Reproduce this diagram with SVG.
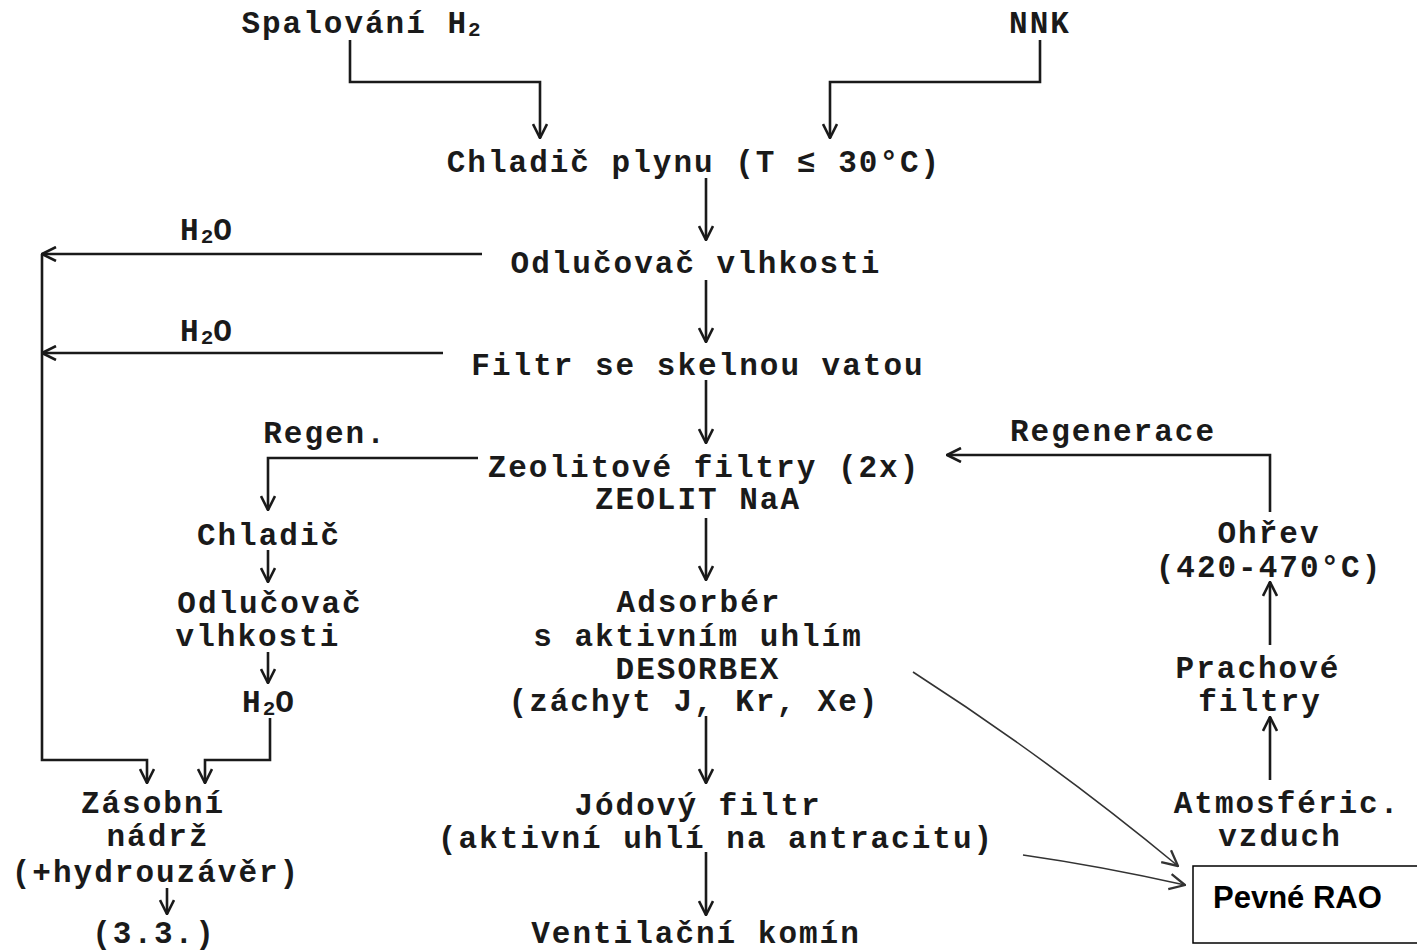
<svg xmlns="http://www.w3.org/2000/svg" width="1417" height="952" viewBox="0 0 1417 952">
<defs>
<style>
.t{font-family:"Liberation Mono","DejaVu Sans Mono",monospace;font-weight:bold;font-size:31px;letter-spacing:2px;fill:#1a1a1a;text-anchor:middle}
.s{font-size:21px;letter-spacing:0}
.c{fill:none;stroke:#1a1a1a;stroke-width:2.6}
.h{fill:none;stroke:#333;stroke-width:1.6}
.box{fill:#fff;stroke:#000;stroke-width:1.5}
.lab{font-family:"Liberation Sans",Arial,sans-serif;font-weight:bold;font-size:31px;fill:#000}
</style>
<marker id="a" viewBox="0 0 16 16" refX="15" refY="8" markerWidth="16" markerHeight="16" markerUnits="userSpaceOnUse" orient="auto">
<path d="M1,1 L15,8 L1,15" fill="none" stroke="#1a1a1a" stroke-width="2.6"/>
</marker>
<marker id="b" viewBox="0 0 14 14" refX="13" refY="7" markerWidth="18" markerHeight="18" markerUnits="userSpaceOnUse" orient="auto">
<path d="M1,1 L13,7 L1,13" fill="none" stroke="#333" stroke-width="1.8"/>
</marker>
</defs>
<rect width="1417" height="952" fill="#fff"/>
<g id="connectors">
<path class="c" d="M350,40 V82 H540 V138" marker-end="url(#a)"/>
<path class="c" d="M1040,40 V82 H830 V138" marker-end="url(#a)"/>
<path class="c" d="M706,178 V240" marker-end="url(#a)"/>
<path class="c" d="M482,254 H42" marker-end="url(#a)"/>
<path class="c" d="M706,280 V342" marker-end="url(#a)"/>
<path class="c" d="M443,353 H42" marker-end="url(#a)"/>
<path class="c" d="M42,254 V760 H147 V783" marker-end="url(#a)"/>
<path class="c" d="M706,380 V443" marker-end="url(#a)"/>
<path class="c" d="M478,458 H268 V510" marker-end="url(#a)"/>
<path class="c" d="M268,550 V582" marker-end="url(#a)"/>
<path class="c" d="M268,652 V683" marker-end="url(#a)"/>
<path class="c" d="M270,718 V760 H205 V783" marker-end="url(#a)"/>
<path class="c" d="M167,888 V914" marker-end="url(#a)"/>
<path class="c" d="M706,852 V915" marker-end="url(#a)"/>
<path class="c" d="M706,518 V580" marker-end="url(#a)"/>
<path class="c" d="M706,716 V783" marker-end="url(#a)"/>
<path class="c" d="M1270,512 V455 H947" marker-end="url(#a)"/>
<path class="c" d="M1270,645 V582" marker-end="url(#a)"/>
<path class="c" d="M1270,780 V717" marker-end="url(#a)"/>
<path class="h" d="M913,672 Q1050,760 1178,866" marker-end="url(#b)"/>
<path class="h" d="M1023,855 Q1100,866 1185,885" marker-end="url(#b)"/>
</g>
<g id="n-spalovani"><text class="t" x="361" y="33">Spalování H<tspan class="s" baseline-shift="-3">2</tspan></text></g>
<g id="n-nnk"><text class="t" x="1040" y="33">NNK</text></g>
<g id="n-chladic-plynu"><text class="t" x="694" y="172">Chladič plynu (T ≤ 30°C)</text></g>
<g id="n-h2o-1"><text class="t" x="207" y="240">H<tspan class="s" baseline-shift="-3">2</tspan>O</text></g>
<g id="n-odlucovac"><text class="t" x="696" y="273">Odlučovač vlhkosti</text></g>
<g id="n-h2o-2"><text class="t" x="207" y="341">H<tspan class="s" baseline-shift="-3">2</tspan>O</text></g>
<g id="n-filtr"><text class="t" x="698" y="375">Filtr se skelnou vatou</text></g>
<g id="n-regen"><text class="t" x="325" y="443">Regen.</text></g>
<g id="n-zeolit"><text class="t" x="704" y="477">Zeolitové filtry (2x)</text><text class="t" x="698" y="509">ZEOLIT NaA</text></g>
<g id="n-regenerace"><text class="t" x="1113" y="441">Regenerace</text></g>
<g id="n-chladic"><text class="t" x="269" y="545">Chladič</text></g>
<g id="n-odlucovac-2"><text class="t" x="270" y="613">Odlučovač</text><text class="t" x="258" y="646">vlhkosti</text></g>
<g id="n-h2o-3"><text class="t" x="269" y="712">H<tspan class="s" baseline-shift="-3">2</tspan>O</text></g>
<g id="n-ohrev"><text class="t" x="1269" y="543">Ohřev</text><text class="t" x="1269" y="577">(420-470°C)</text></g>
<g id="n-adsorber"><text class="t" x="699" y="612">Adsorbér</text><text class="t" x="698" y="646">s aktivním uhlím</text><text class="t" x="698" y="679">DESORBEX</text><text class="t" x="694" y="711">(záchyt J, Kr, Xe)</text></g>
<g id="n-prachove"><text class="t" x="1258" y="678">Prachové</text><text class="t" x="1260" y="711">filtry</text></g>
<g id="n-zasobni"><text class="t" x="153" y="813">Zásobní</text><text class="t" x="158" y="846">nádrž</text><text class="t" x="156" y="882">(+hydrouzávěr)</text></g>
<g id="n-33"><text class="t" x="154" y="943">(3.3.)</text></g>
<g id="n-jodovy"><text class="t" x="698" y="815">Jódový filtr</text><text class="t" x="716" y="848">(aktivní uhlí na antracitu)</text></g>
<g id="n-atmosferic"><text class="t" x="1287" y="813">Atmosféric.</text><text class="t" x="1280" y="846">vzduch</text></g>
<g id="n-ventilacni"><text class="t" x="696" y="943">Ventilační komín</text></g>
<g id="n-pevne-rao"><rect class="box" x="1193" y="866" width="226" height="77"/><text class="lab" x="1213" y="908">Pevné RAO</text></g>
</svg>
